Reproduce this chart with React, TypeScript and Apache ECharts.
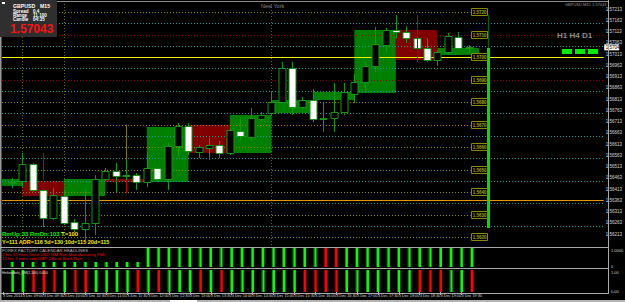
import React, { useEffect, useRef } from "react";
import * as echarts from "echarts";

// ---------------- data ----------------
const openPrices = [1.56444, 1.56449, 1.56524, 1.56409, 1.56284, 1.56382, 1.56267, 1.56236, 1.56262, 1.56458, 1.56493, 1.56476, 1.56476, 1.56444, 1.56507, 1.56458, 1.56604, 1.56693, 1.56578, 1.56596, 1.56609, 1.56573, 1.56671, 1.56644, 1.56724, 1.56751, 1.568, 1.56951, 1.56778, 1.56809, 1.56729, 1.56729, 1.56756, 1.56836, 1.56889, 1.5696, 1.57053, 1.5712, 1.57111, 1.57084, 1.5704, 1.56987, 1.57022, 1.57089, 1.57038];
const closePrices = [1.5644, 1.56524, 1.56409, 1.56284, 1.56387, 1.56262, 1.56236, 1.56262, 1.56458, 1.56493, 1.56471, 1.56473, 1.56444, 1.56507, 1.56458, 1.56604, 1.56693, 1.56582, 1.566, 1.56609, 1.56573, 1.56676, 1.56649, 1.56729, 1.56742, 1.568, 1.56951, 1.56778, 1.56809, 1.56724, 1.56727, 1.56756, 1.56844, 1.56889, 1.5696, 1.57058, 1.5712, 1.57111, 1.57084, 1.5704, 1.56987, 1.57022, 1.57093, 1.5704, 1.57043];
const lowPrices = [1.56418, 1.56422, 1.564, 1.56244, 1.56276, 1.56253, 1.56222, 1.56187, 1.56209, 1.56449, 1.564, 1.564, 1.56409, 1.56422, 1.56444, 1.56409, 1.56556, 1.56564, 1.56551, 1.56542, 1.56551, 1.56564, 1.56631, 1.56631, 1.56716, 1.56742, 1.56796, 1.56742, 1.56764, 1.56711, 1.56667, 1.56667, 1.56742, 1.56796, 1.5684, 1.56933, 1.57022, 1.57084, 1.57062, 1.56978, 1.56978, 1.5696, 1.57013, 1.57031, 1.57018];
const highPrices = [1.56462, 1.56573, 1.56529, 1.56413, 1.56418, 1.56409, 1.5628, 1.56413, 1.56476, 1.56507, 1.56529, 1.56542, 1.56484, 1.56578, 1.56511, 1.56618, 1.56707, 1.56707, 1.56609, 1.5664, 1.56627, 1.56684, 1.56729, 1.56773, 1.56756, 1.56844, 1.56978, 1.56978, 1.56822, 1.56858, 1.568, 1.56884, 1.56884, 1.56924, 1.56978, 1.57133, 1.57129, 1.57187, 1.57138, 1.57187, 1.57084, 1.57031, 1.57107, 1.57111, 1.57053];

// hourly boxes (bar index span, open, close)
const hourBoxStart = [-1, 1, 5, 9, 13, 17, 21, 25, 29, 33, 37, 41];
const hourBoxEnd = [1, 5, 9, 13, 17, 21, 25, 29, 33, 37, 41, 45];
const hourBoxOpen = [1.56427, 1.56449, 1.56382, 1.56458, 1.56444, 1.56698, 1.56573, 1.56751, 1.56809, 1.5684, 1.5712, 1.57009];
const hourBoxClose = [1.56458, 1.56382, 1.56458, 1.56444, 1.56689, 1.56573, 1.56742, 1.56809, 1.56844, 1.5712, 1.56987, 1.5704];

// horizontal levels
const oliveLevels = [1.572, 1.568, 1.566, 1.565, 1.564, 1.563, 1.562];
const orangeLevels = [1.571, 1.569, 1.567];
const tealLevels = [1.5715, 1.5705, 1.5695, 1.5685, 1.5675, 1.5665, 1.5655, 1.5645, 1.5635, 1.5625];
const pivotLevels = [1.571, 1.569];
const yellowLevel = [1.57];
const orangeSolidLevel = [1.56364];
const levelLabelValues = [1.572, 1.571, 1.57, 1.569, 1.568, 1.567, 1.566, 1.565, 1.564, 1.563, 1.562];
const levelLabelTexts = ["1.5720", "1.5710", "1.5700", "1.5690", "1.5680", "1.5670", "1.5660", "1.5650", "1.5640", "1.5630", "1.5620"];

// extra wick marks [bar, top, bottom]
const redMarkBars = [3, 11, 39];
const redMarkTop = [1.56573, 1.56453, 1.57187];
const redMarkBottom = [1.56453, 1.56396, 1.56978];
const oliveMarkBars = [11];
const oliveMarkTop = [1.56698];
const oliveMarkBottom = [1.56396];

// session / news separators
const separatorBars = [1, 5, 25];

// daily range bar
const rangeBarX = [45.84];
const rangeThinTop = [1.57187];
const rangeThinBottom = [1.5704];
const rangeThickTop = [1.5704];
const rangeThickBottom = [1.5624];

const currentPrice = [1.57043];

// price axis
const priceTicks = [1.57213, 1.57163, 1.57113, 1.57063, 1.57013, 1.56963, 1.56913, 1.56863, 1.56813, 1.56763, 1.56713, 1.56663, 1.56613, 1.56563, 1.56513, 1.56463, 1.56413, 1.56363, 1.56313, 1.56263, 1.56213];

// indicator panes: 1 = green, 0 = red
const pane1Signal = [1, 1, 1, 1, 1, 1, 1, 1, 1, 1, 1, 1, 1, 1, 1, 1, 1, 1, 1, 1, 1, 1, 1, 1, 1, 1, 1, 1, 1, 1, 0, 0, 1, 1, 1, 1, 1, 1, 1, 1, 1, 1, 1, 1, 1];
const pane2Signal = [1, 1, 0, 0, 0, 1, 0, 0, 1, 1, 1, 1, 0, 1, 0, 1, 1, 1, 0, 1, 0, 1, 1, 1, 1, 1, 1, 1, 0, 0, 0, 0, 1, 1, 1, 1, 1, 1, 1, 0, 0, 0, 1, 1, 0];

// time axis
const timeLabelBars = [-0.9, 1, 3, 5, 7, 9, 11, 13, 15, 17, 19, 21, 23, 25, 27, 29, 31, 33, 35, 37, 39, 41, 43];
const timeLabels = ["3 Dec 2014", "3 Dec 09:00", "3 Dec 09:30", "3 Dec 10:00", "3 Dec 10:30", "3 Dec 11:00", "3 Dec 11:30", "3 Dec 12:00", "3 Dec 12:30", "3 Dec 13:00", "3 Dec 13:30", "3 Dec 14:00", "3 Dec 14:30", "3 Dec 15:00", "3 Dec 15:30", "3 Dec 16:00", "3 Dec 16:30", "3 Dec 17:00", "3 Dec 17:30", "3 Dec 18:00", "3 Dec 18:30", "3 Dec 19:00", "3 Dec 19:30"];

// ---------------- layout constants ----------------
const X_MIN = -0.957;
const X_MAX = 57.03;
const P_MIN = 1.5616;
const P_MAX = 1.572489;
const LABEL_BOX_BAR = 44.2;
const FONT = '"Liberation Sans", Arial, sans-serif';

const WICK = "#0f9a0f";
const BORDER = "#139613";

function barGrad(sig: number) {
  const dark = sig ? "#00a000" : "#a00000";
  const bright = sig ? "#00ff00" : "#ff0000";
  return new echarts.graphic.LinearGradient(0, 0, 1, 0, [
    { offset: 0, color: dark },
    { offset: 0.33, color: dark },
    { offset: 0.34, color: bright },
    { offset: 1, color: bright },
  ]);
}

function levelSeries(values: number[], color: string, dash: number[] | null, short: boolean, z: number, width = 1) {
  return {
    type: "custom",
    xAxisIndex: 0,
    yAxisIndex: 0,
    z,
    silent: true,
    clip: false,
    data: values.map((v) => [v]),
    renderItem: (params: any, api: any) => {
      const cs = params.coordSys;
      const price = api.value(0);
      const y = Math.round(api.coord([0, price])[1]) + 0.5;
      const x2 = short ? api.coord([LABEL_BOX_BAR, price])[0] : cs.x + cs.width;
      return {
        type: "line",
        shape: { x1: cs.x, y1: y, x2, y2: y },
        style: { stroke: color, lineWidth: width, lineDash: dash || undefined },
      };
    },
  };
}

function vertMarkSeries(bars: number[], tops: number[], bottoms: number[], color: string, width: number, z: number) {
  return {
    type: "custom",
    xAxisIndex: 0,
    yAxisIndex: 0,
    z,
    silent: true,
    clip: false,
    data: bars.map((b, i) => [b, tops[i], bottoms[i]]),
    renderItem: (params: any, api: any) => {
      const p1 = api.coord([api.value(0), api.value(1)]);
      const p2 = api.coord([api.value(0), api.value(2)]);
      const x = Math.round(p1[0]) + (width % 2 ? 0.5 : 0);
      return {
        type: "line",
        shape: { x1: x, y1: p1[1], x2: x, y2: p2[1] },
        style: { stroke: color, lineWidth: width },
      };
    },
  };
}

export default function App() {
  const ref = useRef<HTMLDivElement>(null);

  useEffect(() => {
    if (!ref.current) return;
    const chart = echarts.init(ref.current, null, { renderer: "svg" });

    const option: any = {
      animation: false,
      backgroundColor: "#000000",
      grid: [
        { left: 2, top: 1, width: 606, height: 245 },
        { left: 2, top: 248, width: 606, height: 19 },
        { left: 2, top: 270, width: 606, height: 22 },
      ],
      xAxis: [
        { type: "value", gridIndex: 0, min: X_MIN, max: X_MAX, show: false },
        { type: "value", gridIndex: 1, min: X_MIN, max: X_MAX, show: false },
        {
          type: "value",
          gridIndex: 2,
          min: X_MIN,
          max: X_MAX,
          show: true,
          axisLine: { show: false },
          splitLine: { show: false },
          axisTick: {
            show: true,
            customValues: timeLabelBars,
            length: 3,
            lineStyle: { color: "#b0b0b0", width: 1 },
          },
          axisLabel: {
            customValues: timeLabelBars,
            showMinLabel: true,
            showMaxLabel: true,
            align: "left",
            margin: 2,
            fontSize: 3.8,
            fontFamily: FONT,
            color: "#d8d8d8",
            formatter: (v: number) => {
              const k = timeLabelBars.findIndex((b) => Math.abs(b - v) < 0.01);
              return k >= 0 ? timeLabels[k] : "";
            },
          },
        },
      ],
      yAxis: [
        {
          type: "value",
          gridIndex: 0,
          min: P_MIN,
          max: P_MAX,
          position: "right",
          show: true,
          axisLine: { show: false },
          axisTick: { show: false },
          splitLine: { show: false },
          axisLabel: {
            customValues: priceTicks,
            showMinLabel: true,
            showMaxLabel: true,
            margin: 2,
            fontSize: 4.5,
            fontFamily: FONT,
            color: "#d8d8d8",
            formatter: (v: number) => v.toFixed(5),
          },
        },
        { type: "value", gridIndex: 1, min: 0, max: 1, show: false },
        { type: "value", gridIndex: 2, min: 0, max: 1, show: false },
      ],
      series: [
        // hourly boxes
        {
          type: "custom",
          xAxisIndex: 0,
          yAxisIndex: 0,
          z: 1,
          silent: true,
          clip: false,
          data: hourBoxStart.map((s, i) => [s, hourBoxEnd[i], hourBoxOpen[i], hourBoxClose[i]]),
          renderItem: (params: any, api: any) => {
            const s = api.value(0), e = api.value(1), o = api.value(2), c = api.value(3);
            const cs = params.coordSys;
            const p1 = api.coord([s, Math.max(o, c)]);
            const p2 = api.coord([e, Math.min(o, c)]);
            const x1 = Math.max(p1[0], cs.x);
            return {
              type: "rect",
              shape: { x: x1, y: p1[1], width: p2[0] - x1, height: Math.max(p2[1] - p1[1], 2) },
              style: { fill: c > o ? "#008000" : "#800000" },
            };
          },
        },
        // separators
        {
          type: "custom",
          xAxisIndex: 0,
          yAxisIndex: 0,
          z: 2,
          silent: true,
          clip: false,
          data: separatorBars.map((b) => [b]),
          renderItem: (params: any, api: any) => {
            const cs = params.coordSys;
            const x = Math.round(api.coord([api.value(0), P_MIN])[0]) + 0.5;
            return {
              type: "line",
              shape: { x1: x, y1: cs.y, x2: x, y2: cs.y + cs.height },
              style: { stroke: "#6a6a00", lineWidth: 1, lineDash: [1, 2] },
            };
          },
        },
        levelSeries(tealLevels, "#1c9c9c", [1, 2], false, 2),
        levelSeries(oliveLevels, "#8a8a00", [1, 2], true, 2),
        levelSeries(orangeLevels, "#b87a00", [1, 2], true, 2),
        levelSeries(pivotLevels, "#900000", [1, 2], false, 2),
        levelSeries(orangeSolidLevel, "#e39400", null, false, 3),
        levelSeries(yellowLevel, "#f0f000", null, false, 3),
        // extra marks
        vertMarkSeries(oliveMarkBars, oliveMarkTop, oliveMarkBottom, "#7a7a00", 1, 4),
        // candles
        {
          type: "custom",
          xAxisIndex: 0,
          yAxisIndex: 0,
          z: 5,
          silent: true,
          clip: false,
          data: openPrices.map((o, i) => [i, o, closePrices[i], lowPrices[i], highPrices[i]]),
          renderItem: (params: any, api: any) => {
            const i = api.value(0), o = api.value(1), c = api.value(2), l = api.value(3), h = api.value(4);
            const pO = api.coord([i, o]);
            const pC = api.coord([i, c]);
            const pL = api.coord([i, l]);
            const pH = api.coord([i, h]);
            const x = Math.round(pO[0]) + 0.5;
            const top = Math.round(Math.min(pO[1], pC[1])) + 0.5;
            const bot = Math.round(Math.max(pO[1], pC[1])) + 0.5;
            const bull = c >= o;
            return {
              type: "group",
              children: [
                { type: "line", shape: { x1: x, y1: pH[1], x2: x, y2: pL[1] }, style: { stroke: WICK, lineWidth: 1 } },
                {
                  type: "rect",
                  shape: { x: x - 3.5, y: top, width: 7, height: Math.max(bot - top, 1) },
                  style: { fill: bull ? "#000000" : "#ffffff", stroke: BORDER, lineWidth: 1 },
                },
              ],
            };
          },
        },
        vertMarkSeries(redMarkBars, redMarkTop, redMarkBottom, "#c00000", 1, 6),
        // daily range bar
        vertMarkSeries(rangeBarX, rangeThinTop, rangeThinBottom, "#006400", 1, 6),
        vertMarkSeries(rangeBarX, rangeThickTop, rangeThickBottom, "#00e000", 3, 6),
        // level label boxes
        {
          type: "custom",
          xAxisIndex: 0,
          yAxisIndex: 0,
          z: 6,
          silent: true,
          clip: false,
          data: levelLabelValues.map((v, i) => [v, i]),
          renderItem: (params: any, api: any) => {
            const price = api.value(0);
            const k = api.value(1);
            const p = api.coord([LABEL_BOX_BAR, price]);
            const x = Math.round(p[0]) + 0.5;
            const y = Math.round(p[1]);
            return {
              type: "group",
              children: [
                { type: "rect", shape: { x, y: y - 3.5, width: 16, height: 7 }, style: { fill: "#000000", stroke: "#8a8a00", lineWidth: 1 } },
                {
                  type: "text",
                  x: x + 8,
                  y: y + 0.5,
                  style: { text: levelLabelTexts[k], fill: "#a6a600", font: `bold 4.5px ${FONT}`, align: "center", verticalAlign: "middle" },
                },
              ],
            };
          },
        },
        // current price label
        {
          type: "custom",
          xAxisIndex: 0,
          yAxisIndex: 0,
          z: 7,
          silent: true,
          clip: false,
          data: currentPrice.map((v) => [v]),
          renderItem: (params: any, api: any) => {
            const cs = params.coordSys;
            const y = api.coord([0, api.value(0)])[1];
            const x = cs.x + cs.width;
            return {
              type: "group",
              children: [
                { type: "rect", shape: { x: x + 0.5, y: y - 3, width: 15, height: 6 }, style: { fill: "#ffffff" } },
                {
                  type: "text",
                  x: x + 2,
                  y: y,
                  style: { text: api.value(0).toFixed(5), fill: "#000000", font: `4.5px ${FONT}`, align: "left", verticalAlign: "middle" },
                },
              ],
            };
          },
        },
        // pane 1
        {
          type: "bar",
          xAxisIndex: 1,
          yAxisIndex: 1,
          barWidth: 3,
          silent: true,
          data: pane1Signal.map((s, i) => ({ value: [i, 1], itemStyle: { color: barGrad(s) } })),
        },
        // pane 2
        {
          type: "bar",
          xAxisIndex: 2,
          yAxisIndex: 2,
          barWidth: 3,
          silent: true,
          data: pane2Signal.map((s, i) => ({ value: [i, 1], itemStyle: { color: barGrad(s) } })),
        },
      ],
      graphic: [
        // window frame
        { type: "rect", z: 100, shape: { x: 0, y: 0, width: 1.5, height: 300 }, style: { fill: "#9a9a9a" } },
        { type: "line", z: 100, shape: { x1: 0, y1: 1.5, x2: 608, y2: 1.5 }, style: { stroke: "#8c8c8c", lineWidth: 1 } },
        { type: "line", z: 100, shape: { x1: 608.5, y1: 0, x2: 608.5, y2: 294 }, style: { stroke: "#a8a8a8", lineWidth: 1 } },
        { type: "line", z: 100, shape: { x1: 0, y1: 247.5, x2: 608, y2: 247.5 }, style: { stroke: "#a8a8a8", lineWidth: 1 } },
        { type: "line", z: 100, shape: { x1: 0, y1: 268.5, x2: 608, y2: 268.5 }, style: { stroke: "#a8a8a8", lineWidth: 1 } },
        { type: "line", z: 100, shape: { x1: 0, y1: 293.5, x2: 608, y2: 293.5 }, style: { stroke: "#a8a8a8", lineWidth: 1 } },
        { type: "rect", z: 100, shape: { x: 0, y: 300, width: 625, height: 2 }, style: { fill: "#b4b4b4" } },
        { type: "rect", z: 101, shape: { x: 170, y: 300, width: 27, height: 2 }, style: { fill: "#ffffff" } },
        // info box
        { type: "rect", z: 100, shape: { x: 0, y: 0, width: 57, height: 37 }, style: { fill: "#2f2f2f" } },
        { type: "rect", z: 101, shape: { x: 2, y: 2, width: 3, height: 2 }, style: { fill: "#ffffff" } },
        { type: "text", z: 101, x: 13, y: 3, style: { text: "GBPUSD", fill: "#ffffff", font: `bold 5.2px ${FONT}` } },
        { type: "text", z: 101, x: 40, y: 3, style: { text: "M15", fill: "#ffffff", font: `bold 5.2px ${FONT}` } },
        { type: "text", z: 101, x: 13, y: 9, style: { text: "Spread", fill: "#ffffff", font: `bold 4.6px ${FONT}` } },
        { type: "text", z: 101, x: 33, y: 9, style: { text: "0.4", fill: "#ffffff", font: `bold 4.6px ${FONT}` } },
        { type: "text", z: 101, x: 13, y: 13.2, style: { text: "Range", fill: "#ffffff", font: `bold 4.6px ${FONT}` } },
        { type: "text", z: 101, x: 33, y: 13.2, style: { text: "11,100", fill: "#ffffff", font: `bold 4.6px ${FONT}` } },
        { type: "text", z: 101, x: 13, y: 17.4, style: { text: "Candle", fill: "#ffffff", font: `bold 4.6px ${FONT}` } },
        { type: "text", z: 101, x: 33, y: 17.4, style: { text: "04:35", fill: "#ffffff", font: `bold 4.6px ${FONT}` } },
        { type: "text", z: 101, x: 10, y: 22.5, style: { text: "1.57043", fill: "#ff1010", font: `bold 12px ${FONT}` } },
        // session label
        { type: "text", z: 100, x: 261, y: 2.5, style: { text: "New York", fill: "#8c8c8c", font: `5.5px ${FONT}` } },
        // top right
        { type: "text", z: 100, x: 565, y: 2, style: { text: "GBPUSD,M15 1.57043", fill: "#9a9a9a", font: `4px ${FONT}` } },
        // MTF
        { type: "text", z: 100, x: 557, y: 31, style: { text: "H1 H4 D1", fill: "#8c8c8c", font: `bold 8px ${FONT}` } },
        { type: "rect", z: 100, shape: { x: 562, y: 49, width: 10, height: 5 }, style: { fill: "#00ee00" } },
        { type: "rect", z: 100, shape: { x: 575, y: 49, width: 10, height: 5 }, style: { fill: "#00ee00" } },
        { type: "rect", z: 100, shape: { x: 588, y: 49, width: 10, height: 5 }, style: { fill: "#00ee00" } },
        // stats
        { type: "text", z: 100, x: 2, y: 230.5, style: { text: "RmUp:33 RmDn:103", fill: "#00ee00", font: `bold 6px ${FONT}` } },
        { type: "text", z: 100, x: 61, y: 230.5, style: { text: "T=100", fill: "#f0f000", font: `bold 6px ${FONT}` } },
        { type: "text", z: 100, x: 2, y: 239, style: { text: "Y=111 ADR=116 5d=130 10d=115 20d=115", fill: "#f0f000", font: `bold 5.5px ${FONT}` } },
        // pane 1 text
        { type: "rect", z: 100, shape: { x: 2, y: 248, width: 138, height: 14 }, style: { fill: "#000000" } },
        { type: "text", z: 101, x: 2, y: 248.5, style: { text: "FOREX FACTORY CALENDAR HEADLINES", fill: "#b4b4b4", font: `4.3px ${FONT}` } },
        { type: "text", z: 101, x: 2, y: 252.5, style: { text: "2 hrs 55 mins since USD ISM Non-Manufacturing PMI", fill: "#ee1010", font: `4.3px ${FONT}` } },
        { type: "text", z: 101, x: 2, y: 256.5, style: { text: "15 hrs 4 mins until GBP Official Bank Rate", fill: "#ee1010", font: `4.3px ${FONT}` } },
        { type: "text", z: 100, x: 611, y: 248, style: { text: "1.0000", fill: "#d0d0d0", font: `4px ${FONT}` } },
        { type: "text", z: 100, x: 611, y: 264, style: { text: "0", fill: "#d0d0d0", font: `4px ${FONT}` } },
        // pane 2 text
        { type: "text", z: 101, x: 2, y: 270.5, style: { text: "HeikenAshi_DM(1,100) 0.000", fill: "#e0e0e0", font: `3.5px ${FONT}` } },
        { type: "text", z: 100, x: 611, y: 270, style: { text: "1.00", fill: "#d0d0d0", font: `4px ${FONT}` } },
        { type: "text", z: 100, x: 611, y: 289, style: { text: "0.00", fill: "#d0d0d0", font: `4px ${FONT}` } },
      ],
    };

    chart.setOption(option);
    return () => chart.dispose();
  }, []);

  return (
    <div
      ref={ref}
      style={{ position: "fixed", left: 0, top: 0, width: 625, height: 302 }}
    />
  );
}
